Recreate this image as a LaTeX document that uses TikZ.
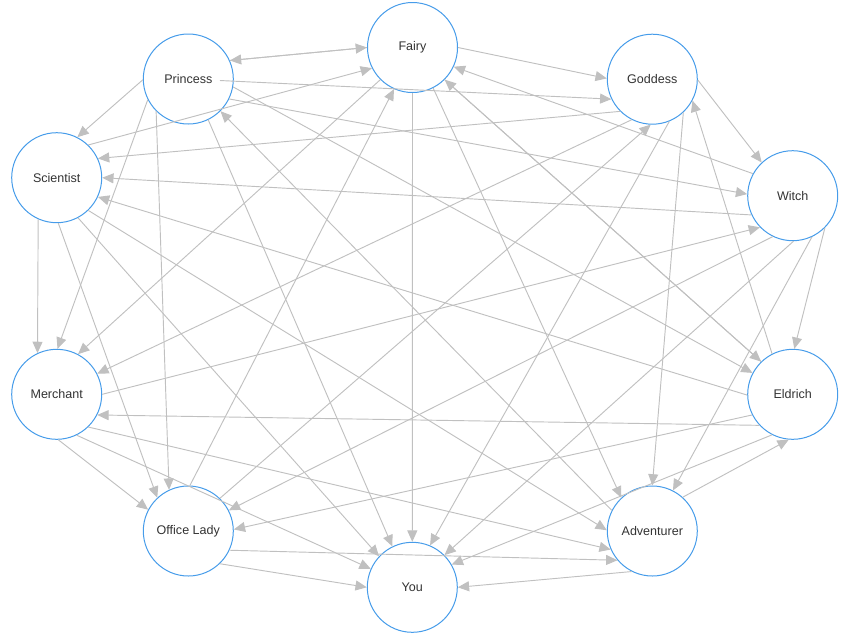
\documentclass[tikz,border=0pt]{standalone}
\usepackage{fontspec}
\setmainfont{Liberation Sans}
\usetikzlibrary{arrows.meta}
\definecolor{nodeblue}{RGB}{70,156,234}
\definecolor{edgegray}{RGB}{192,192,192}
\definecolor{textgray}{RGB}{51,51,51}
\tikzset{
  nd/.style={circle, draw=nodeblue, fill=white, line width=0.75pt, minimum size=67.5pt, inner sep=0pt,
    font=\fontsize{9.4pt}{11pt}\selectfont, text=textgray},
  ed/.style={draw=edgegray, line width=0.7pt, -{Triangle[length=8.5pt,width=7.5pt]}}
}
\begin{document}
\begin{tikzpicture}[x=0.75pt,y=-0.75pt]
\useasboundingbox (0,0) rectangle (853,637);
\node[nd] (F) at (412.5,47.5) {Fairy};
\node[nd] (P) at (188.3,79) {Princess};
\node[nd] (G) at (652.3,79.2) {Goddess};
\node[nd] (S) at (56.7,177.7) {Scientist};
\node[nd] (W) at (792.7,195.7) {Witch};
\node[nd] (M) at (56.7,394.3) {Merchant};
\node[nd] (E) at (792.7,394.3) {Eldrich};
\node[nd] (O) at (188.3,531) {Office Lady};
\node[nd] (A) at (652.3,531) {Adventurer};
\node[nd] (Y) at (412.3,587.3) {You};
% Princess
\draw[ed] (P.24) -- (F.180);
\draw[ed] (F.180) -- (P.24);
\draw[ed, shorten <=23.8pt] (P.center) -- (G.206);
\draw[ed] (P.181) -- (S.63);
\draw[ed] (P.207) -- (M.89);
\draw[ed] (P.225) -- (O.115);
\draw[ed] (P.296) -- (Y.116);
\draw[ed] (P.334) -- (W.178);
\draw[ed] (P.350) -- (E.152);
% Fairy
\draw[ed] (F.0) -- (G.179);
\draw[ed] (S.46) -- (F.207);
\draw[ed] (F.225) -- (M.62);
\draw[ed] (O.88) -- (F.246);
\draw[ed] (F.270) -- (Y.90);
\draw[ed] (F.297) -- (A.133);
\draw[ed] (F.315) -- (E.134);
\draw[ed] (E.134) -- (F.315);
\draw[ed] (W.151) -- (F.335);
% Goddess
\draw[ed] (O.46) -- (G.268);
\draw[ed] (E.117) -- (G.332);
\draw[ed] (G.225) -- (S.25);
\draw[ed] (G.243) -- (M.27);
\draw[ed] (G.292) -- (Y.67);
\draw[ed] (G.313) -- (A.90);
\draw[ed] (G.359) -- (W.133);
% Scientist
\draw[ed] (S.314) -- (A.179);
\draw[ed] (S.298) -- (Y.137);
\draw[ed] (S.272) -- (O.133);
\draw[ed] (S.246) -- (M.115);
\draw[ed] (W.205) -- (S.0);
\draw[ed] (E.181) -- (S.335);
% Witch
\draw[ed] (M.0) -- (W.224);
\draw[ed] (W.244) -- (O.27);
\draw[ed] (W.271) -- (Y.45);
\draw[ed] (W.295) -- (A.63);
\draw[ed] (W.315) -- (E.88);
% Eldrich
\draw[ed] (E.223) -- (M.333);
\draw[ed] (E.207) -- (O.2);
\draw[ed] (E.243) -- (Y.30);
\draw[ed] (A.48) -- (E.265);
% Adventurer
\draw[ed] (A.153) -- (P.315);
\draw[ed] (A.243) -- (Y.0);
\draw[ed] (M.314) -- (A.204);
% Merchant / Office Lady
\draw[ed] (M.296) -- (Y.156);
\draw[ed] (M.272) -- (O.152);
\draw[ed] (O.335) -- (A.220);
\draw[ed] (O.314) -- (Y.180);
\end{tikzpicture}
\end{document}
